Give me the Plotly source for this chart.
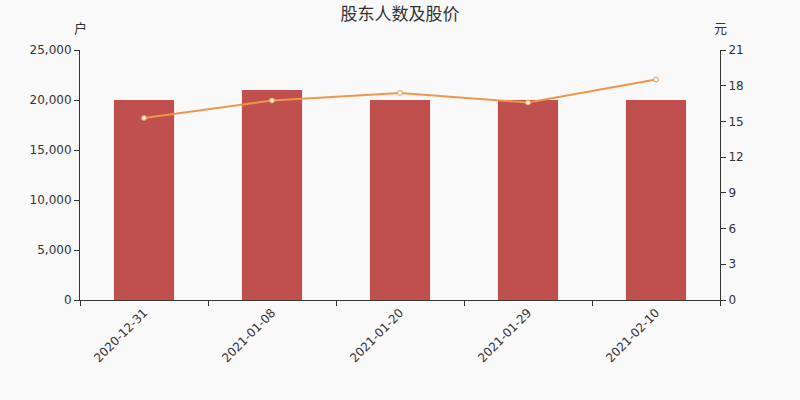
import plotly.graph_objects as go

dates = ["2020-12-31", "2021-01-08", "2021-01-20", "2021-01-29", "2021-02-10"]
holders = [20000, 21000, 20000, 20000, 20000]
price = [15.29, 16.76, 17.39, 16.59, 18.52]

font_cn = "DejaVu Sans, Noto Sans CJK SC, sans-serif"

fig = go.Figure()

fig.add_trace(go.Bar(
    x=dates, y=holders,
    marker=dict(color="#c0504d", line=dict(width=0)),
    name="股东人数",
))

fig.add_trace(go.Scatter(
    x=dates, y=price,
    yaxis="y2",
    mode="lines+markers",
    line=dict(color="#f0964a", width=2),
    marker=dict(size=5, color="white", line=dict(color="#f0964a", width=1)),
    name="股价",
))

axis_style = dict(
    ticks="outside", ticklen=5, tickcolor="#333333",
    showline=True, linecolor="#333333", linewidth=1,
    showgrid=False, zeroline=False,
    tickfont=dict(size=12, color="#333333"),
)

fig.update_layout(
    width=800, height=400,
    paper_bgcolor="#f9f9f9",
    plot_bgcolor="#f9f9f9",
    showlegend=False,
    bargap=0.53,
    margin=dict(l=80, r=80, t=50, b=100, autoexpand=False),
    font=dict(family=font_cn, size=12, color="#333333"),
    title=dict(text="股东人数及股价", x=0.5, y=0.965, xanchor="center", yanchor="middle",
               font=dict(size=17, color="#333333", family="Noto Sans CJK SC, sans-serif")),
    xaxis=dict(type="category", tickangle=-45, tickson="boundaries", **axis_style),
    yaxis=dict(range=[0, 25000], dtick=5000, tickformat=",d", **axis_style),
    yaxis2=dict(overlaying="y", side="right", range=[0, 21], dtick=3, **axis_style),
    annotations=[
        dict(text="户", x=0, y=1.088, xref="paper", yref="paper",
             xanchor="center", yanchor="middle", showarrow=False,
             font=dict(size=13, color="#333333", family="Noto Sans CJK SC")),
        dict(text="元", x=1.0, y=1.088, xref="paper", yref="paper",
             xanchor="center", yanchor="middle", showarrow=False,
             font=dict(size=13, color="#333333", family="Noto Sans CJK SC")),
    ],
)

fig.write_html(
    "out.html",
    config={"displayModeBar": False},
    post_script="document.body.style.margin='0';document.body.style.background='#f9f9f9';",
)
